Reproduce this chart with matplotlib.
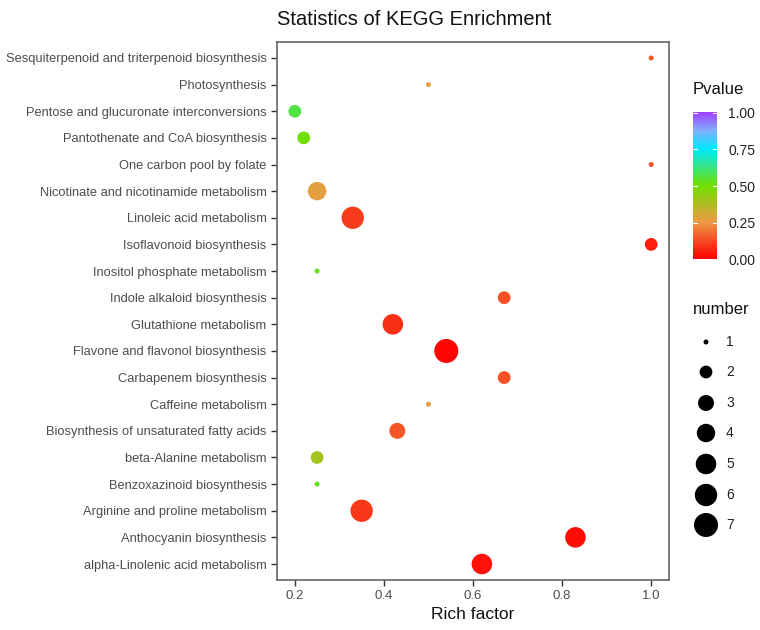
import matplotlib
matplotlib.use("Agg")
import matplotlib.pyplot as plt
import numpy as np
from matplotlib.colors import LinearSegmentedColormap, Normalize

plt.rcParams['font.family'] = ['Liberation Sans', 'DejaVu Sans']

# top to bottom
pathways = [
    "Sesquiterpenoid and triterpenoid biosynthesis",
    "Photosynthesis",
    "Pentose and glucuronate interconversions",
    "Pantothenate and CoA biosynthesis",
    "One carbon pool by folate",
    "Nicotinate and nicotinamide metabolism",
    "Linoleic acid metabolism",
    "Isoflavonoid biosynthesis",
    "Inositol phosphate metabolism",
    "Indole alkaloid biosynthesis",
    "Glutathione metabolism",
    "Flavone and flavonol biosynthesis",
    "Carbapenem biosynthesis",
    "Caffeine metabolism",
    "Biosynthesis of unsaturated fatty acids",
    "beta-Alanine metabolism",
    "Benzoxazinoid biosynthesis",
    "Arginine and proline metabolism",
    "Anthocyanin biosynthesis",
    "alpha-Linolenic acid metabolism",
]
rich_factor = [1.0, 0.5, 0.2, 0.22, 1.0, 0.25, 0.33, 1.0, 0.25, 0.67,
               0.42, 0.54, 0.67, 0.5, 0.43, 0.25, 0.25, 0.35, 0.83, 0.62]
pvalue = [0.14, 0.27, 0.57, 0.50, 0.14, 0.27, 0.10, 0.05, 0.53, 0.13,
          0.08, 0.01, 0.13, 0.27, 0.14, 0.40, 0.53, 0.09, 0.02, 0.03]
number = [1, 1, 2, 2, 1, 4, 6, 2, 1, 2,
          5, 7, 2, 1, 3, 2, 1, 6, 5, 5]

legend_numbers = [1, 2, 3, 4, 5, 6, 7]
cbar_ticks = [0.0, 0.25, 0.5, 0.75, 1.0]
x_ticks = [0.2, 0.4, 0.6, 0.8, 1.0]

cmap = LinearSegmentedColormap.from_list(
    "pv", [(0.0, "#ff0000"), (0.25, "#ee9a46"), (0.5, "#70e000"),
           (0.75, "#00e8ff"), (0.875, "#80b0ff"), (1.0, "#a040ff")])
norm = Normalize(0, 1)

DPI = 100
def size_of(n):
    n = np.asarray(n, dtype=float)
    d_px = 5 + 19 * np.sqrt((n - 1) / 6.0)
    d_pt = d_px * 72.0 / DPI
    return d_pt ** 2

fig = plt.figure(figsize=(7.6, 6.3), dpi=DPI)
ax = fig.add_axes([277/760, 1-580/630, (669-277)/760, (580-42)/630])

ypos = np.arange(len(pathways))[::-1]
ax.scatter(rich_factor, ypos, s=size_of(number), c=pvalue, cmap=cmap, norm=norm,
           edgecolors='none', zorder=3)
ax.set_xlim(0.16, 1.04)
ax.set_ylim(-0.6, len(pathways) - 0.4)
ax.set_yticks(np.arange(len(pathways)))
ax.set_yticklabels(pathways[::-1])
ax.set_xticks(x_ticks)
ax.set_xticklabels(["0.2", "0.4", "0.6", "0.8", "1.0"])
ax.tick_params(axis='both', direction='out', length=4, width=1, color='#333333',
               labelcolor='#4d4d4d', labelsize=9.5)
ax.tick_params(axis='y', labelsize=9.3)
for s in ax.spines.values():
    s.set_color('#666666')
    s.set_linewidth(1.2)
ax.set_xlabel("Rich factor", fontsize=12.5, color='#111111', labelpad=3)
ax.set_title("Statistics of KEGG Enrichment", fontsize=14.5, color='#111111',
             pad=12, loc='left')

# colorbar
cax = fig.add_axes([693/760, 1-262/630, 24/760, 152/630])
grad = np.linspace(0, 1, 256).reshape(-1, 1)
cax.imshow(grad, aspect='auto', cmap=cmap, norm=norm, origin='lower', extent=[0, 1, 0, 1])
cax.set_xticks([])
cax.set_ylim(-0.02, 1.02)
cax.yaxis.tick_right()
cax.set_yticks(cbar_ticks)
cax.set_yticklabels(["0.00", "0.25", "0.50", "0.75", "1.00"])
cax.tick_params(axis='y', length=0, labelsize=10, labelcolor='#222222', pad=8)
for t in cbar_ticks:
    cax.plot([0, 0.18], [t, t], color='white', lw=0.8)
    cax.plot([0.82, 1], [t, t], color='white', lw=0.8)
for s in cax.spines.values():
    s.set_visible(False)
fig.text(693/760, 1-90/630, "Pvalue", fontsize=12, color='#111111', va='center', ha='left')

# size legend
fig.text(693/760, 1-310/630, "number", fontsize=12, color='#111111', va='center', ha='left')
lax = fig.add_axes([690/760, 1-545/630, 60/760, 220/630])
lax.set_xlim(0, 60)
lax.set_ylim(545, 325)
ly = [342, 372, 403, 433, 464, 495, 525]
lax.scatter([16]*len(legend_numbers), ly, s=size_of(legend_numbers), color='black',
            edgecolors='none')
for n, y in zip(legend_numbers, ly):
    lax.text(36, y, str(n), fontsize=10, color='#222222', va='center', ha='left')
lax.axis('off')

fig.savefig("out.png", dpi=DPI)
